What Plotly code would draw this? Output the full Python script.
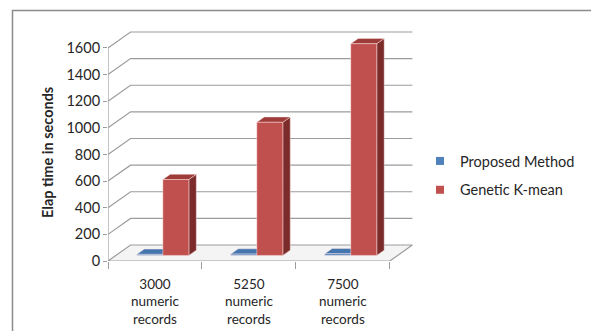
import plotly.graph_objects as go

# ---- data ----
categories = ["3000<br>numeric<br>records", "5250<br>numeric<br>records", "7500<br>numeric<br>records"]
series_names = ["Proposed Method", "Genetic K-mean"]
proposed_method = [8, 10, 12]
genetic_kmean = [570, 1000, 1590]
y_ticks = [0, 200, 400, 600, 800, 1000, 1200, 1400, 1600]

# ---- styling / geometry of the pseudo-3D box ----
FONT = "Lato"
FS = 14.5
TEXT = "#262626"
GRID = "#9c9c9c"
DX, DY = 0.24, 120.0        # depth offset of the back wall (x units, value units)
BAR_W = 0.277               # width of one bar in category units
D0, D1 = 0.35, 0.68         # front / back depth of bars (fraction of box depth)
N = len(categories)
X_LEFT, X_RIGHT = -0.5, N - 0.5
Y_TOP = y_ticks[-1]

face_colors = {
    "Proposed Method": {"front": "#4F81BD", "side": "#2F5687", "top": "#4575AE"},
    "Genetic K-mean": {"front": "#C0504D", "side": "#7B2C2A", "top": "#9E3C39"},
}


def proj(x, v, d):
    """Oblique projection of a point at depth d (0 = front, 1 = back)."""
    return x + d * DX, v + d * DY


def poly(points):
    xs, ys = [], []
    for x, v, d in points:
        px, py = proj(x, v, d)
        xs.append(px)
        ys.append(py)
    xs.append(xs[0])
    ys.append(ys[0])
    return xs, ys


fig = go.Figure()

# floor
fx, fy = poly([(X_LEFT, 0, 0), (X_RIGHT, 0, 0), (X_RIGHT, 0, 1), (X_LEFT, 0, 1)])
fig.add_trace(go.Scatter(x=fx, y=fy, mode="lines", fill="toself", fillcolor="#F4F4F4",
                         line=dict(color=GRID, width=1.2), hoverinfo="skip", showlegend=False))

# left-wall diagonals and back-wall gridlines
gx, gy = [], []
for v in y_ticks[1:]:
    a = proj(X_LEFT, v, 0)
    b = proj(X_LEFT, v, 1)
    c = proj(X_RIGHT, v, 1)
    gx += [a[0], b[0], c[0], None]
    gy += [a[1], b[1], c[1], None]
fig.add_trace(go.Scatter(x=gx, y=gy, mode="lines", line=dict(color=GRID, width=1.2),
                         hoverinfo="skip", showlegend=False))

# front value axis line
fig.add_trace(go.Scatter(x=[X_LEFT, X_LEFT], y=[0, Y_TOP], mode="lines",
                         line=dict(color=GRID, width=1.2), hoverinfo="skip", showlegend=False))

# bars: per category, left series first so the right one overlaps it
values = {"Proposed Method": proposed_method, "Genetic K-mean": genetic_kmean}
for i in range(N):
    for s, name in enumerate(series_names):
        v = values[name][i]
        x0 = i - BAR_W + s * BAR_W
        x1 = x0 + BAR_W
        cols = face_colors[name]
        faces = [
            ("side", [(x1, 0, D0), (x1, 0, D1), (x1, v, D1), (x1, v, D0)]),
            ("top", [(x0, v, D0), (x1, v, D0), (x1, v, D1), (x0, v, D1)]),
            ("front", [(x0, 0, D0), (x1, 0, D0), (x1, v, D0), (x0, v, D0)]),
        ]
        for kind, pts in faces:
            px, py = poly(pts)
            fig.add_trace(go.Scatter(x=px, y=py, mode="lines", fill="toself",
                                     fillcolor=cols[kind],
                                     line=dict(color="rgba(255,235,235,0.55)", width=0.8),
                                     hoverinfo="skip", showlegend=False))

# legend entries
for name in series_names:
    fig.add_trace(go.Scatter(x=[None], y=[None], mode="markers", name=name,
                             legendgroup=name,
                             marker=dict(symbol="square", size=8,
                                         color=face_colors[name]["front"])))

# dummy trace so xaxis2 is drawn
fig.add_trace(go.Scatter(x=[None], y=[None], xaxis="x2", showlegend=False, hoverinfo="skip"))

W, H = 591, 331
ML, MR, MT, MB = 108, 173, 28, 70
PW, PH = W - ML - MR, H - MT - MB
y_max = 1750


def px_x(p):
    """Page pixel column -> paper fraction (paper spans the plot area)."""
    return (p - ML) / PW


def px_y(p):
    return (H - MB - p) / PH


fig.update_layout(
    width=W, height=H,
    margin=dict(l=ML, r=MR, t=MT, b=MB, autoexpand=False),
    paper_bgcolor="white", plot_bgcolor="white",
    font=dict(family=FONT, size=FS, color=TEXT),
    xaxis=dict(range=[X_LEFT, X_RIGHT + 0.3], showgrid=False, zeroline=False, showline=False,
               tickmode="array", tickvals=[k - 0.5 for k in range(N + 1)],
               ticktext=[""] * (N + 1), ticks="outside", ticklen=7, tickcolor=GRID,
               tickwidth=1.2, fixedrange=True, automargin=False),
    xaxis2=dict(range=[X_LEFT, X_RIGHT + 0.3], overlaying="x", side="bottom",
                showgrid=False, zeroline=False, showline=False, automargin=False,
                tickmode="array", tickvals=list(range(N)), ticktext=categories,
                ticks="", ticklabelstandoff=13, tickfont=dict(family=FONT, size=13.5, color=TEXT)),
    yaxis=dict(range=[0, y_max], showgrid=False, zeroline=False, showline=False,
               tickmode="array", tickvals=y_ticks, ticktext=[str(t) for t in y_ticks],
               ticks="outside", ticklen=4, tickcolor=GRID, tickwidth=1.2, automargin=False,
               tickfont=dict(family=FONT, size=FS, color=TEXT)),
    legend=dict(x=px_x(446 - 26), y=px_y(145), xanchor="left", yanchor="top",
                font=dict(family=FONT, size=FS, color=TEXT), tracegroupgap=7,
                bgcolor="rgba(0,0,0,0)"),
    annotations=[dict(text="<b>Elap time in seconds</b>", textangle=-90,
                      xref="paper", yref="paper", x=px_x(47), y=px_y(153),
                      xanchor="center", yanchor="middle",
                      showarrow=False, font=dict(family=FONT, size=FS, color=TEXT))],
    shapes=[dict(type="rect", xref="paper", yref="paper",
                 x0=px_x(12.5), x1=px_x(W + 20), y0=px_y(H + 20), y1=px_y(10.5),
                 line=dict(color="#8c8c8c", width=1.5), layer="below")],
)

fig.write_html("out.html")
